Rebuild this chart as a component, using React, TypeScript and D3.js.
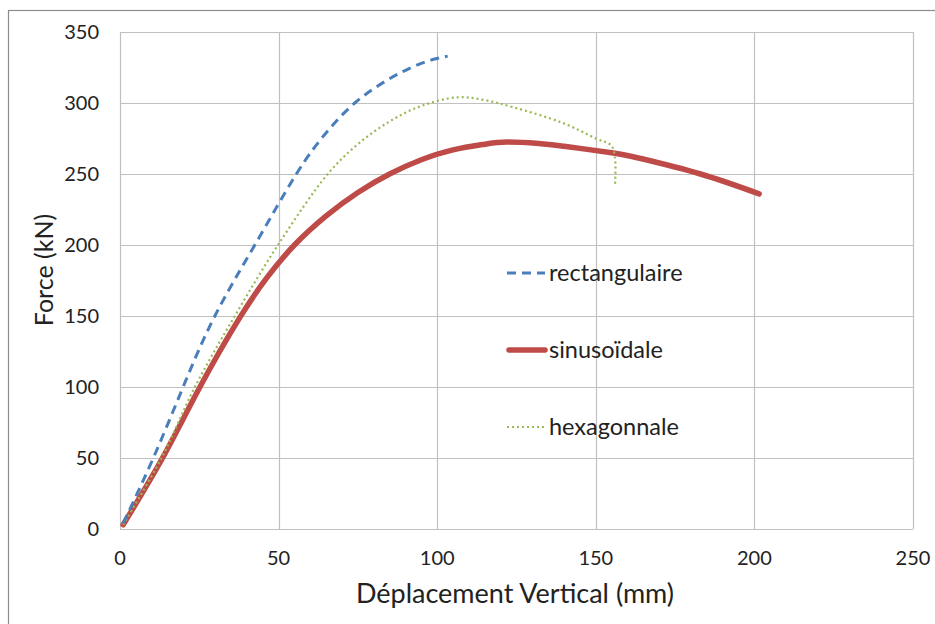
import React, { useEffect, useRef } from 'react';
import * as d3 from 'd3';

// displacement (mm) / force (kN)
const rectX = [1, 10.5, 19.9, 29.9, 42.5, 55.6, 65, 74, 83.4, 90, 97, 103.3];
const rectY = [4, 50, 100, 150, 200, 250, 279, 300, 315, 323, 329.5, 333];

const sinusX = [1, 13.4, 25.2, 37.8, 46.5, 55, 65, 75, 85, 95, 105, 115, 122, 132, 140, 155, 164, 183, 201.5];
const sinusY = [3, 50, 100, 149, 177.5, 200, 220.5, 237, 250, 260, 267, 271, 272.5, 271.5, 269.5, 265, 261, 250, 236];

const hexaX = [1, 13.1, 23.6, 36.2, 49.8, 65.5, 75, 85, 95, 106.5, 115, 124, 139.5, 150, 155.2, 156];
const hexaY = [3, 50, 100, 150, 200, 250, 271, 287, 298, 304, 302, 297, 286, 275, 269, 241];

const xTicks = [0, 50, 100, 150, 200, 250];
const yTicks = [0, 50, 100, 150, 200, 250, 300, 350];

const seriesNames = ['rectangulaire', 'sinusoïdale', 'hexagonnale'];

const W = 935;
const H = 624;
const FONT = 'Lato, "Open Sans", sans-serif';

export default function App() {
    const svgRef = useRef<SVGSVGElement>(null);

    useEffect(() => {
        if (!svgRef.current) return;
        const svg = d3.select(svgRef.current);
        svg.selectAll('*').remove();

        const x = d3.scaleLinear().domain([0, 250]).range([120, 913]);
        const y = d3.scaleLinear().domain([0, 350]).range([529, 32]);

        // outer chart frame (runs off the right and bottom of the picture)
        svg.append('rect')
            .attr('x', 8.5).attr('y', 10.5)
            .attr('width', 1000).attr('height', 1000)
            .attr('fill', 'white')
            .attr('stroke', '#8c8c8c')
            .attr('stroke-width', 1.2);

        // gridlines
        const grid = svg.append('g').attr('stroke', '#c0c0c0').attr('stroke-width', 1.2);
        yTicks.forEach(t => {
            grid.append('line')
                .attr('x1', x(0)).attr('x2', x(250))
                .attr('y1', Math.round(y(t)) + 0.5).attr('y2', Math.round(y(t)) + 0.5);
        });
        xTicks.forEach(t => {
            grid.append('line')
                .attr('x1', Math.round(x(t)) + 0.5).attr('x2', Math.round(x(t)) + 0.5)
                .attr('y1', y(0)).attr('y2', y(350));
        });

        // tick labels
        svg.append('g').selectAll('text').data(yTicks).join('text')
            .attr('x', 99).attr('y', d => y(d))
            .attr('dy', '0.35em')
            .attr('text-anchor', 'end')
            .attr('font-family', FONT).attr('font-size', 20)
            .attr('fill', '#222')
            .text(d => d);

        svg.append('g').selectAll('text').data(xTicks).join('text')
            .attr('x', d => x(d)).attr('y', 558)
            .attr('dy', '0.35em')
            .attr('text-anchor', 'middle')
            .attr('font-family', FONT).attr('font-size', 20)
            .attr('fill', '#222')
            .text(d => d);

        // axis titles
        svg.append('text')
            .attr('x', 515).attr('y', 594)
            .attr('dy', '0.35em')
            .attr('text-anchor', 'middle')
            .attr('font-family', FONT).attr('font-size', 27)
            .attr('fill', '#222')
            .text('Déplacement Vertical (mm)');

        svg.append('text')
            .attr('transform', 'translate(44,270) rotate(-90)')
            .attr('dy', '0.35em')
            .attr('text-anchor', 'middle')
            .attr('font-family', FONT).attr('font-size', 25)
            .attr('fill', '#222')
            .text('Force (kN)');

        const smooth = d3.line<[number, number]>()
            .x(d => x(d[0]))
            .y(d => y(d[1]))
            .curve(d3.curveNatural);

        // hexagonal series ends with a near-vertical drop, natural spline would ring there
        const catmull = d3.line<[number, number]>()
            .x(d => x(d[0]))
            .y(d => y(d[1]))
            .curve(d3.curveCatmullRom.alpha(0.5));

        const styles = [
            { color: '#4A7EBB', width: 3, dash: '9,6', cap: 'butt', gen: smooth },
            { color: '#BE4B48', width: 5.5, dash: null, cap: 'round', gen: smooth },
            { color: '#98B954', width: 2.2, dash: '2,3', cap: 'butt', gen: catmull },
        ];

        const series: [number, number][][] = [
            rectX.map((v, i) => [v, rectY[i]]),
            sinusX.map((v, i) => [v, sinusY[i]]),
            hexaX.map((v, i) => [v, hexaY[i]]),
        ];

        // draw order: sinus first, then hexa, then rect on top
        [1, 2, 0].forEach(i => {
            const s = styles[i];
            svg.append('path')
                .datum(series[i])
                .attr('fill', 'none')
                .attr('stroke', s.color)
                .attr('stroke-width', s.width)
                .attr('stroke-linecap', s.cap)
                .attr('stroke-dasharray', s.dash)
                .attr('d', s.gen);
        });

        // legend
        const legendY = [273, 350, 427];
        seriesNames.forEach((name, i) => {
            const s = styles[i];
            const ly = legendY[i];
            const x0 = i === 1 ? 509 : 507;
            svg.append('line')
                .attr('x1', x0).attr('x2', 545)
                .attr('y1', ly).attr('y2', ly)
                .attr('stroke', s.color)
                .attr('stroke-width', s.width)
                .attr('stroke-linecap', s.cap)
                .attr('stroke-dasharray', s.dash);
            svg.append('text')
                .attr('x', 549).attr('y', ly)
                .attr('dy', '0.35em')
                .attr('font-family', FONT).attr('font-size', 23.5)
                .attr('fill', '#222')
                .text(name);
        });
    }, []);

    return (
        <svg
            ref={svgRef}
            width={W}
            height={H}
            style={{ position: 'absolute', left: 0, top: 0, background: 'white' }}
        />
    );
}
